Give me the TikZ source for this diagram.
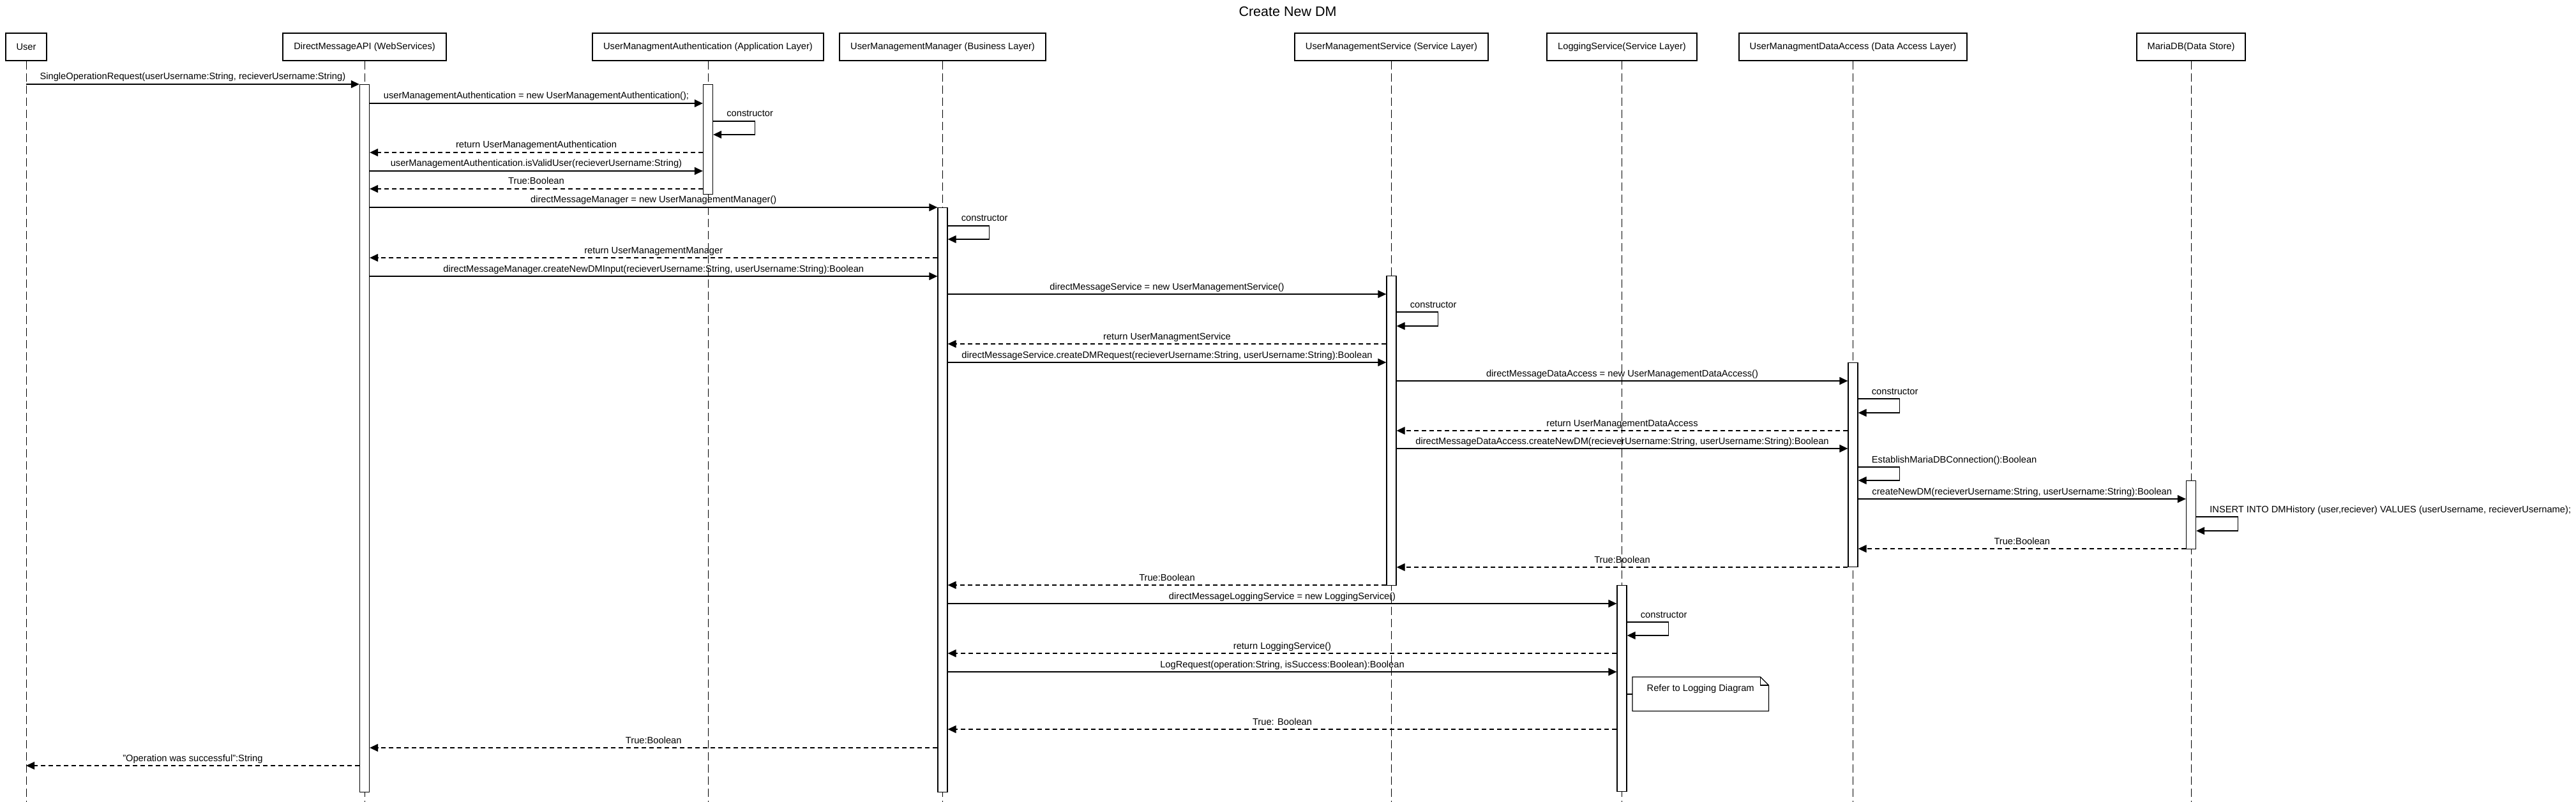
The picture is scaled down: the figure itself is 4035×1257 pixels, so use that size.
\documentclass[tikz,border=0pt]{standalone}
\usepackage{fontspec}
\setmainfont{Liberation Sans}
\usetikzlibrary{arrows.meta}
\begin{document}
\begin{tikzpicture}[x=1pt,y=-1pt,
  every node/.style={font=\fontsize{14.67pt}{17pt}\selectfont, text=black},
  hdr/.style={draw, line width=2.6pt, minimum height=43pt, inner sep=0pt},
  life/.style={line width=1pt, dash pattern=on 13pt off 6pt},
  actbar/.style={draw, fill=white, line width=1.3pt, minimum width=15pt, inner sep=0pt, anchor=north},
  msg/.style={line width=1.3pt, -{Triangle[length=13pt,width=12pt]}},
  ret/.style={msg, dash pattern=on 7pt off 5pt},
  lbl/.style={anchor=base, inner sep=0pt, yshift=7pt},
  looplbl/.style={anchor=base west, inner sep=0pt, xshift=21pt},
  notebox/.style={minimum width=213pt, minimum height=53pt, inner sep=0pt, anchor=north west},
]
\useasboundingbox (0,0) rectangle (4035,1257);
\coordinate (bot) at (0,1257);

% title
\node[font=\fontsize{21.5pt}{25pt}\selectfont] (title) at (2017,18) {Create New DM};

% headers
\node[hdr, minimum width=64pt]  (hUser) at (41,73.5)     {User};
\node[hdr, minimum width=256pt] (hAPI)  at (571,73.5)    {DirectMessageAPI (WebServices)};
\node[hdr, minimum width=362pt] (hAuth) at (1109,73.5)   {UserManagmentAuthentication (Application Layer)};
\node[hdr, minimum width=323pt] (hMgr)  at (1476.5,73.5) {UserManagementManager (Business Layer)};
\node[hdr, minimum width=303pt] (hSvc)  at (2179.5,73.5) {UserManagementService (Service Layer)};
\node[hdr, minimum width=235pt] (hLog)  at (2540.5,73.5) {LoggingService(Service Layer)};
\node[hdr, minimum width=357pt] (hDA)   at (2902.5,73.5) {UserManagmentDataAccess (Data Access Layer)};
\node[hdr, minimum width=170pt] (hDB)   at (3432,73.5)   {MariaDB(Data Store)};

% lifelines
\foreach \h in {hUser,hAPI,hAuth,hMgr,hSvc,hLog,hDA,hDB}
  \draw[life] (\h.south) -- (\h.south |- bot);

% activation bars
\node[actbar, minimum height=1109pt] (aAPI)  at (hAPI.south |- 0,132) {};
\node[actbar, minimum height=172pt]  (aAuth) at (hAuth.south |- 0,132) {};
\node[actbar, minimum height=916pt]  (aMgr)  at (hMgr.south |- 0,325) {};
\node[actbar, minimum height=485pt]  (aSvc)  at (hSvc.south |- 0,432) {};
\node[actbar, minimum height=320pt]  (aDA)   at (hDA.south |- 0,568) {};
\node[actbar, minimum height=107pt]  (aDB)   at (hDB.south |- 0,753) {};
\node[actbar, minimum height=323pt]  (aLog)  at (hLog.south |- 0,917) {};

% messages
\draw[msg] (hUser.south |- 0,132) -- node[lbl]{SingleOperationRequest(userUsername:String, recieverUsername:String)} (aAPI.west |- 0,132);
\draw[msg] (aAPI.east |- 0,162) -- node[lbl]{userManagementAuthentication = new UserManagementAuthentication();} (aAuth.west |- 0,162);
\draw[msg] (aAuth.east |- 0,190) -- ++(65,0) |- (aAuth.east |- 0,211);
\node[looplbl] (lc1) at (aAuth.east |- 0,183) {constructor};
\draw[ret] (aAuth.west |- 0,239) -- node[lbl]{return UserManagementAuthentication} (aAPI.east |- 0,239);
\draw[msg] (aAPI.east |- 0,268) -- node[lbl]{userManagementAuthentication.isValidUser(recieverUsername:String)} (aAuth.west |- 0,268);
\draw[ret] (aAuth.west |- 0,296) -- node[lbl]{True:Boolean} (aAPI.east |- 0,296);

\draw[msg] (aAPI.east |- 0,325) -- node[lbl]{directMessageManager = new UserManagementManager()} (aMgr.west |- 0,325);
\draw[msg] (aMgr.east |- 0,354) -- ++(65,0) |- (aMgr.east |- 0,375);
\node[looplbl] (lc2) at (aMgr.east |- 0,347) {constructor};
\draw[ret] (aMgr.west |- 0,404) -- node[lbl]{return UserManagementManager} (aAPI.east |- 0,404);
\draw[msg] (aAPI.east |- 0,433) -- node[lbl]{directMessageManager.createNewDMInput(recieverUsername:String, userUsername:String):Boolean} (aMgr.west |- 0,433);

\draw[msg] (aMgr.east |- 0,461) -- node[lbl]{directMessageService = new UserManagementService()} (aSvc.west |- 0,461);
\draw[msg] (aSvc.east |- 0,489) -- ++(65,0) |- (aSvc.east |- 0,511);
\node[looplbl] (lc3) at (aSvc.east |- 0,482) {constructor};
\draw[ret] (aSvc.west |- 0,539) -- node[lbl]{return UserManagmentService} (aMgr.east |- 0,539);
\draw[msg] (aMgr.east |- 0,568) -- node[lbl]{directMessageService.createDMRequest(recieverUsername:String, userUsername:String):Boolean} (aSvc.west |- 0,568);

\draw[msg] (aSvc.east |- 0,597) -- node[lbl]{directMessageDataAccess = new UserManagementDataAccess()} (aDA.west |- 0,597);
\draw[msg] (aDA.east |- 0,625) -- ++(65,0) |- (aDA.east |- 0,647);
\node[looplbl] (lc4) at (aDA.east |- 0,618) {constructor};
\draw[ret] (aDA.west |- 0,675) -- node[lbl]{return UserManagementDataAccess} (aSvc.east |- 0,675);
\draw[msg] (aSvc.east |- 0,703) -- node[lbl]{directMessageDataAccess.createNewDM(recieverUsername:String, userUsername:String):Boolean} (aDA.west |- 0,703);
\draw[msg] (aDA.east |- 0,732) -- ++(65,0) |- (aDA.east |- 0,753);
\node[looplbl] (lc5) at (aDA.east |- 0,725) {EstablishMariaDBConnection():Boolean};

\draw[msg] (aDA.east |- 0,782) -- node[lbl]{createNewDM(recieverUsername:String, userUsername:String):Boolean} (aDB.west |- 0,782);
\draw[msg] (aDB.east |- 0,810) -- ++(65,0) |- (aDB.east |- 0,832);
\node[looplbl] (lc6) at (aDB.east |- 0,803) {INSERT INTO DMHistory (user,reciever) VALUES (userUsername, recieverUsername);};
\draw[ret] (aDB.west |- 0,860) -- node[lbl]{True:Boolean} (aDA.east |- 0,860);
\draw[ret] (aDA.west |- 0,889) -- node[lbl]{True:Boolean} (aSvc.east |- 0,889);
\draw[ret] (aSvc.west |- 0,917) -- node[lbl]{True:Boolean} (aMgr.east |- 0,917);

\draw[msg] (aMgr.east |- 0,946) -- node[lbl]{directMessageLoggingService = new LoggingService()} (aLog.west |- 0,946);
\draw[msg] (aLog.east |- 0,975) -- ++(65,0) |- (aLog.east |- 0,996);
\node[looplbl] (lc7) at (aLog.east |- 0,968) {constructor};
\draw[ret] (aLog.west |- 0,1024) -- node[lbl]{return LoggingService()} (aMgr.east |- 0,1024);
\draw[msg] (aMgr.east |- 0,1053) -- node[lbl]{LogRequest(operation:String, isSuccess:Boolean):Boolean} (aLog.west |- 0,1053);

% note
\node[notebox] (note) at (2557,1061) {};
\draw[line width=1.3pt] (note.north west) -- ([xshift=-13pt]note.north east) -- ([yshift=-13pt]note.north east) -- (note.south east) -- (note.south west) -- cycle;
\draw[line width=1.3pt] ([xshift=-13pt]note.north east) -- ([xshift=-13pt,yshift=-13pt]note.north east) -- ([yshift=-13pt]note.north east);
\node[anchor=base, inner sep=0pt] (notetext) at (note.north |- 0,1083.5) {Refer to Logging Diagram};
\draw[line width=1.3pt] (aLog.east |- 0,1088) -- (note.west |- 0,1088);

\draw[ret] (aLog.west |- 0,1143) -- node[lbl]{True: Boolean} (aMgr.east |- 0,1143);
\draw[ret] (aMgr.west |- 0,1172) -- node[lbl]{True:Boolean} (aAPI.east |- 0,1172);
\draw[ret] (aAPI.west |- 0,1200) -- node[lbl]{"Operation was successful":String} (hUser.south |- 0,1200);
\end{tikzpicture}
\end{document}
